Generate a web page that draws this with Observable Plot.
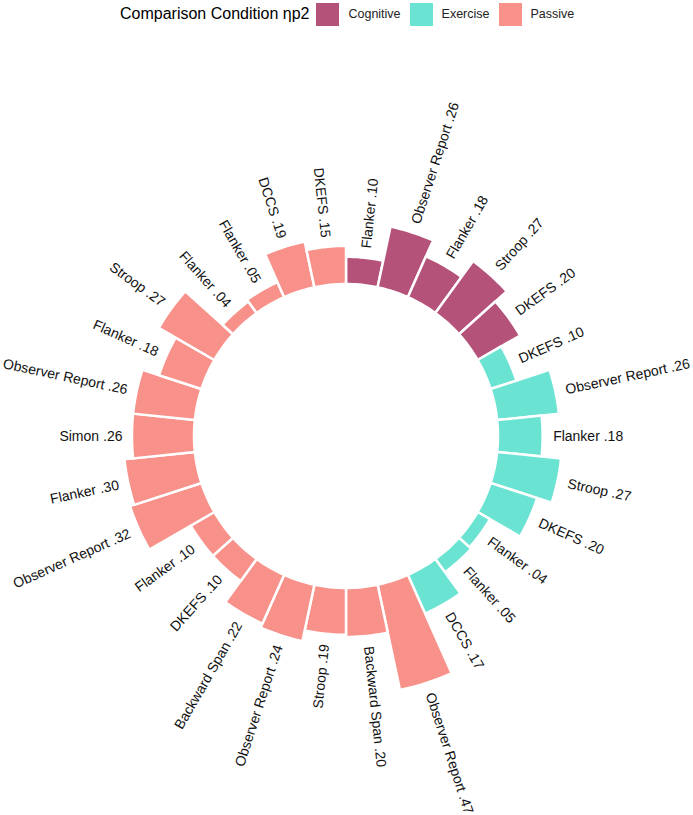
<!DOCTYPE html>
<html>
<head>
<meta charset="utf-8">
<script src="https://cdn.jsdelivr.net/npm/d3@7"></script>
<script src="https://cdn.jsdelivr.net/npm/@observablehq/plot@0.6"></script>
<style>
  body { margin: 0; background: #fff; font-family: "Liberation Sans", Arial, Helvetica, sans-serif; }
  #legend { height: 28px; display: flex; align-items: center; padding-left: 120px; box-sizing: border-box; }
  #legend .title { font-size: 16px; color: #000; margin-right: 7px; }
  #legend .sw { width: 23px; height: 23px; margin-right: 9px; }
  #legend .lab { font-size: 12.5px; color: #222; margin-right: 9px; }
</style>
</head>
<body>
<div id="legend"></div>
<div id="chart"></div>
<script>
// ---- data ----
const conditionNames = ["Cognitive", "Exercise", "Passive"];
const conditionColors = ["#B45279", "#6AE3D3", "#F8918A"];
const legendTitle = "Comparison Condition ηp2";

const measures = [
  "Flanker", "Observer Report", "Flanker", "Stroop", "DKEFS",
  "DKEFS", "Observer Report", "Flanker", "Stroop", "DKEFS", "Flanker", "Flanker", "DCCS",
  "Observer Report", "Backward Span", "Stroop", "Observer Report", "Backward Span", "DKEFS",
  "Flanker", "Observer Report", "Flanker", "Simon", "Observer Report", "Flanker", "Stroop",
  "Flanker", "Flanker", "DCCS", "DKEFS"
];
const values = [
  0.10, 0.26, 0.18, 0.27, 0.20,
  0.10, 0.26, 0.18, 0.27, 0.20, 0.04, 0.05, 0.17,
  0.47, 0.20, 0.19, 0.24, 0.22, 0.10,
  0.10, 0.32, 0.30, 0.26, 0.26, 0.18, 0.27,
  0.04, 0.05, 0.19, 0.15
];
const conditions = [
  "Cognitive", "Cognitive", "Cognitive", "Cognitive", "Cognitive",
  "Exercise", "Exercise", "Exercise", "Exercise", "Exercise", "Exercise", "Exercise", "Exercise",
  "Passive", "Passive", "Passive", "Passive", "Passive", "Passive",
  "Passive", "Passive", "Passive", "Passive", "Passive", "Passive", "Passive",
  "Passive", "Passive", "Passive", "Passive"
];

// ---- legend ----
const leg = d3.select("#legend");
leg.append("span").attr("class", "title").text(legendTitle);
conditionNames.forEach((c, i) => {
  leg.append("span").attr("class", "sw").style("background", conditionColors[i]);
  leg.append("span").attr("class", "lab").text(c);
});

// ---- chart ----
const W = 693, H = 787;
const CX = 346, CY = 408;
const n = values.length;
const step = 360 / n;
const rInner = 152;
const radius = d3.scaleLinear().domain([0, 0.47]).range([157.5, 259.7]);
const fmt = v => d3.format(".2f")(v).replace(/^0/, "");
const rad = d => d * Math.PI / 180;

const bars = values.map((v, i) => ({
  id: i, value: v, cond: conditions[i], measure: measures[i],
  a0: i * step, a1: (i + 1) * step, ac: (i + 0.5) * step,
  label: measures[i] + " " + fmt(v)
}));

const arcPts = bars.flatMap(b => d3.range(0, 11).map(k => {
  const a = rad(b.a0 + (b.a1 - b.a0) * k / 10);
  const ro = radius(b.value);
  return {id: b.id, cond: b.cond,
    xi: rInner * Math.sin(a), yi: rInner * Math.cos(a),
    xo: ro * Math.sin(a), yo: ro * Math.cos(a)};
}));

const labels = bars.map(b => {
  const a = rad(b.ac);
  const rl = radius(b.value) + 10;
  return {...b, x: rl * Math.sin(a), y: rl * Math.cos(a),
    rot: b.ac < 180 ? b.ac - 90 : b.ac - 270};
});

const textStyle = {fontSize: 14, fontFamily: "Liberation Sans, Arial, Helvetica, sans-serif", fill: "#111"};

const chart = Plot.plot({
  width: W, height: H, margin: 0,
  x: {domain: [-CX, W - CX], axis: null},
  y: {domain: [CY - H, CY], axis: null},
  color: {domain: conditionNames, range: conditionColors},
  marks: [
    Plot.area(arcPts, {x1: "xi", y1: "yi", x2: "xo", y2: "yo", z: "id", fill: "cond",
      stroke: "white", strokeWidth: 2.5}),
    Plot.text(labels.filter(d => d.ac < 180), {x: "x", y: "y", text: "label", rotate: "rot",
      textAnchor: "start", ...textStyle}),
    Plot.text(labels.filter(d => d.ac >= 180), {x: "x", y: "y", text: "label", rotate: "rot",
      textAnchor: "end", ...textStyle})
  ]
});
document.getElementById("chart").appendChild(chart);
</script>
</body>
</html>
